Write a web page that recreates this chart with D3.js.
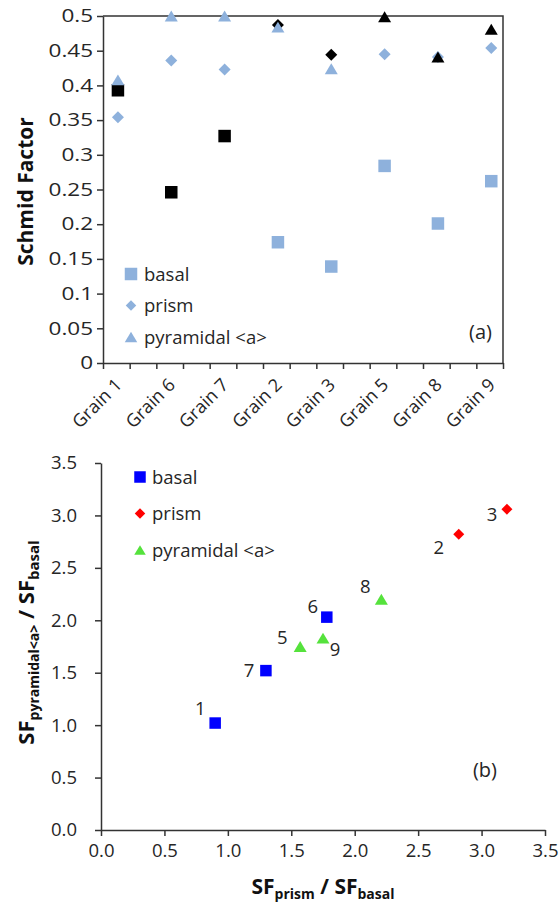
<!DOCTYPE html>
<html>
<head>
<meta charset="utf-8">
<script src="https://cdn.jsdelivr.net/npm/d3@7"></script>
<style>
  html, body { margin: 0; padding: 0; background: #fff; }
  svg text { font-family: "Open Sans", sans-serif; fill: #262626; }
  .axis path, .axis line { stroke: #333; stroke-width: 1.5; }
  .title { font-weight: bold; fill: #111; }
</style>
</head>
<body>
<svg id="chart" width="559" height="908"></svg>
<script>

// Data ////////////////////////////////////

const grains = ["Grain 1", "Grain 6", "Grain 7", "Grain 2", "Grain 3", "Grain 5", "Grain 8", "Grain 9"];
const basal = [0.393, 0.246, 0.327, 0.174, 0.139, 0.284, 0.201, 0.262];
const prism = [0.354, 0.436, 0.423, 0.487, 0.444, 0.445, 0.441, 0.454];
const pyramidal = [0.408, 0.500, 0.500, 0.484, 0.424, 0.499, 0.441, 0.481];
// slip system marked in black for each grain
const active = ["basal", "basal", "basal", "prism", "prism", "pyramidal", "pyramidal", "pyramidal"];

const topTicks = [0, 0.05, 0.1, 0.15, 0.2, 0.25, 0.3, 0.35, 0.4, 0.45, 0.5];

const ratioGrains = ["1", "7", "6", "5", "9", "8", "2", "3"];
const ratioSystem = ["basal", "basal", "basal", "pyramidal", "pyramidal", "pyramidal", "prism", "prism"];
const ratioPrism = [0.90, 1.30, 1.78, 1.57, 1.75, 2.21, 2.82, 3.20];
const ratioPyramidal = [1.02, 1.52, 2.03, 1.75, 1.83, 2.20, 2.82, 3.06];

const bottomTicks = [0, 0.5, 1.0, 1.5, 2.0, 2.5, 3.0, 3.5];

const systems = ["basal", "prism", "pyramidal"];
const legendLabels = ["basal", "prism", "pyramidal <a>"];

// Shapes ////////////////////////////////////

function shape(kind, s) {
    if (kind === "basal") {
        const h = s / 2;
        return `M${-h},${-h}H${h}V${h}H${-h}Z`;
    }
    if (kind === "prism") {
        const h = s / 2;
        return `M0,${-h}L${h},0L0,${h}L${-h},0Z`;
    }
    const w = s / 2, h = s * 0.42;
    return `M0,${-h}L${w},${h}L${-w},${h}Z`;
}

const svg = d3.select("#chart");
svg.append("rect").attr("width", 559).attr("height", 908).attr("fill", "#fff");

// Top chart ////////////////////////////////////

const boxA = { left: 103, right: 503, top: 16, bottom: 363 };
const lightBlue = "#8eb1dc";

const xTop = d3.scaleLinear()
    .domain([0.72, 8.22])
    .range([boxA.left, boxA.right]);

const yTop = d3.scaleLinear()
    .domain([0, 0.5])
    .range([boxA.bottom, boxA.top]);

const gTop = svg.append("g");

gTop.append("g")
    .attr("class", "axis")
    .attr("transform", `translate(0, ${ boxA.bottom })`)
    .call(d3.axisBottom(xTop)
        .tickValues(d3.range(16).map(k => 0.72 + k * 0.5))
        .tickFormat("")
        .tickSize(6)
        .tickSizeOuter(0));

gTop.append("g")
    .attr("class", "axis")
    .attr("transform", `translate(${ boxA.left }, 0)`)
    .call(d3.axisLeft(yTop)
        .tickValues(topTicks)
        .tickFormat(d3.format(".2~f"))
        .tickSize(6)
        .tickSizeOuter(0))
    .call(g => g.selectAll("text")
        .attr("x", -10 / 1.25)
        .attr("transform", "scale(1.25,1)")
        .style("font-size", "18px"));

// frame top and right
gTop.append("path")
    .attr("d", `M${ boxA.left },${ boxA.top }H${ boxA.right }V${ boxA.bottom }`)
    .attr("fill", "none")
    .attr("stroke", "#333")
    .attr("stroke-width", 1.5);

gTop.append("g")
    .selectAll("text")
    .data(grains)
    .join("text")
    .attr("text-anchor", "end")
    .attr("transform", (d, i) => `translate(${ xTop(i + 1) + 5 }, ${ boxA.bottom + 23 }) rotate(-45)`)
    .style("font-size", "18px")
    .text(d => d);

gTop.append("text")
    .attr("class", "title")
    .attr("text-anchor", "middle")
    .attr("transform", `translate(33, ${ (boxA.top + boxA.bottom) / 2 + 2 }) rotate(-90)`)
    .style("font-size", "21px")
    .text("Schmid Factor");

const topSeries = { basal: basal, prism: prism, pyramidal: pyramidal };
const topSize = { basal: 12.5, prism: 12, pyramidal: 13 };

systems.forEach(sys => {
    gTop.append("g")
        .selectAll("path")
        .data(topSeries[sys])
        .join("path")
        .attr("d", shape(sys, topSize[sys]))
        .attr("transform", (d, i) => `translate(${ xTop(i + 1) }, ${ yTop(d) })`)
        .attr("fill", (d, i) => active[i] === sys ? "#000" : lightBlue);
});

const legTop = gTop.append("g");
legendLabels.forEach((label, i) => {
    const yy = 274 + i * 31.5;
    legTop.append("path")
        .attr("d", shape(systems[i], i === 1 ? 10.5 : 12.5))
        .attr("transform", `translate(131, ${ yy })`)
        .attr("fill", lightBlue);
    legTop.append("text")
        .attr("x", 144)
        .attr("y", yy + 6.5)
        .style("font-size", "18.5px")
        .text(label);
});

gTop.append("text")
    .attr("x", 492)
    .attr("y", 339)
    .attr("text-anchor", "end")
    .style("font-size", "20px")
    .text("(a)");

// Bottom chart ////////////////////////////////////

const boxB = { left: 101, right: 545, top: 463, bottom: 830 };
const colors = { basal: "#0000ff", prism: "#ff0000", pyramidal: "#55e23c" };

const xBot = d3.scaleLinear()
    .domain([0, 3.5])
    .range([boxB.left, boxB.right]);

const yBot = d3.scaleLinear()
    .domain([0, 3.5])
    .range([boxB.bottom, boxB.top]);

const gBot = svg.append("g");

gBot.append("g")
    .attr("class", "axis")
    .attr("transform", `translate(0, ${ boxB.bottom })`)
    .call(d3.axisBottom(xBot)
        .tickValues(bottomTicks)
        .tickFormat(d3.format(".1f"))
        .tickSize(6)
        .tickSizeOuter(0)
        .tickPadding(8))
    .call(g => g.selectAll("text").style("font-size", "18.5px"));

gBot.append("g")
    .attr("class", "axis")
    .attr("transform", `translate(${ boxB.left }, 0)`)
    .call(d3.axisLeft(yBot)
        .tickValues(bottomTicks)
        .tickFormat(d3.format(".1f"))
        .tickSize(6)
        .tickSizeOuter(0)
        .tickPadding(18))
    .call(g => g.selectAll("text").style("font-size", "18.5px"));

// x title
const xTitle = gBot.append("text")
    .attr("class", "title")
    .attr("text-anchor", "middle")
    .attr("x", (boxB.left + boxB.right) / 2)
    .attr("y", 894)
    .style("font-size", "21px");
xTitle.append("tspan").text("SF");
xTitle.append("tspan").attr("dy", 5).style("font-size", "14px").text("prism");
xTitle.append("tspan").attr("dy", -5).text(" / SF");
xTitle.append("tspan").attr("dy", 5).style("font-size", "14px").text("basal");

// y title
const yTitle = gBot.append("text")
    .attr("class", "title")
    .attr("text-anchor", "middle")
    .attr("transform", `translate(34, ${ (boxB.top + boxB.bottom) / 2 - 4 }) rotate(-90)`)
    .style("font-size", "22px");
yTitle.append("tspan").text("SF");
yTitle.append("tspan").attr("dy", 5).style("font-size", "14px").text("pyramidal<a>");
yTitle.append("tspan").attr("dy", -5).text(" / SF");
yTitle.append("tspan").attr("dy", 5).style("font-size", "15px").text("basal");

const botSize = { basal: 11.5, prism: 11, pyramidal: 13 };

gBot.append("g")
    .selectAll("path")
    .data(ratioGrains)
    .join("path")
    .attr("d", (d, i) => shape(ratioSystem[i], botSize[ratioSystem[i]]))
    .attr("transform", (d, i) => `translate(${ xBot(ratioPrism[i]) }, ${ yBot(ratioPyramidal[i]) })`)
    .attr("fill", (d, i) => colors[ratioSystem[i]]);

// label placement around each point
const labelShift = {
    "1": [-15, -15], "7": [-17, 0], "6": [-14, -11], "5": [-18, -9],
    "9": [12, 11], "8": [-16, -13], "2": [-20, 13], "3": [-15, 5]
};

gBot.append("g")
    .selectAll("text")
    .data(ratioGrains)
    .join("text")
    .attr("text-anchor", "middle")
    .attr("x", (d, i) => xBot(ratioPrism[i]) + labelShift[d][0])
    .attr("y", (d, i) => yBot(ratioPyramidal[i]) + labelShift[d][1] + 6.5)
    .style("font-size", "18.5px")
    .text(d => d);

const legBot = gBot.append("g");
legendLabels.forEach((label, i) => {
    const yy = 477 + i * 36.5;
    legBot.append("path")
        .attr("d", shape(systems[i], i === 1 ? 10.5 : 11.5))
        .attr("transform", `translate(140, ${ yy })`)
        .attr("fill", colors[systems[i]]);
    legBot.append("text")
        .attr("x", 152)
        .attr("y", yy + 6.5)
        .style("font-size", "18.5px")
        .text(label);
});

gBot.append("text")
    .attr("x", 497)
    .attr("y", 777)
    .attr("text-anchor", "end")
    .style("font-size", "20px")
    .text("(b)");

</script>
</body>
</html>
